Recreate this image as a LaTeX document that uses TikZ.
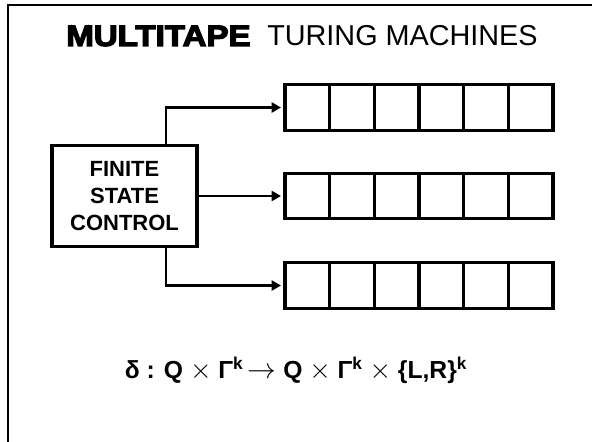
\documentclass[tikz,border=0pt]{standalone}
\usepackage{fontspec}
\setmainfont{Liberation Sans}
\newfontfamily\heavyfont[FakeBold=4]{Liberation Sans Bold}
\usetikzlibrary{arrows.meta}

\tikzset{
    cell/.style={draw, line width=2.3pt, minimum width=33.5pt, minimum height=34pt, inner sep=0pt, outer sep=0pt},
    fsc/.style={draw, line width=2.3pt, minimum width=108.75pt, minimum height=75.75pt, align=center, font=\fontsize{16.5}{20.5}\selectfont\bfseries},
    feed/.style={line width=2pt, -{Triangle[length=7pt, width=7.5pt]}, shorten >=3pt}
}

\newcommand{\supk}{\textsuperscript{k}}
\newcommand{\crossop}{\scalebox{1.2}{$\times$}}
\newcommand{\mapsop}{\scalebox{1.25}{$\rightarrow$}}

\begin{document}
\begin{tikzpicture}[x=0.75pt, y=-0.75pt]
        \useasboundingbox (0,0) rectangle (592,442);

        % Frame
        \draw[line width=1.6pt] (8,442) -- (8,5) -- (592,5);

        % Title
        \node[anchor=base west, inner sep=0pt] (multi) at (66,46)
            {\fontsize{20.5}{24}\selectfont\scalebox{1.21}[1.08]{\heavyfont MULTITAPE}};
        \node[anchor=base west, inner sep=0pt] (turing) at (267,46)
            {\fontsize{21.6}{25}\selectfont TURING MACHINES};

        % Finite state control
        \node[fsc] (control) at (124.5,196) {FINITE\\STATE\\CONTROL};

        % Draw the tapes
        \foreach \t/\y in {1/107.5, 2/196, 3/285.5} {
            \foreach \c in {1,...,6} {
                \node[cell] (t\t-\c) at ({285+44.67*(\c-0.5)},\y) {};
            }
        }

        % Draw the arrows
        %tape 1
        \draw[feed] (166,145) |- (t1-1.west);
        %tape 2
        \draw[feed] (control.east) -- (t2-1.west);
        %tape 3
        \draw[feed] (166,246) |- (t3-1.west);

        % Transition function
        \node[anchor=base, inner sep=0pt, font=\fontsize{18.5}{22}\selectfont\bfseries] (delta) at (296,378)
            {δ : Q \crossop{} Γ\supk{}\,\mapsop{} Q \crossop{} Γ\supk{} \crossop{} \{L,R\}\supk};
\end{tikzpicture}
\end{document}
